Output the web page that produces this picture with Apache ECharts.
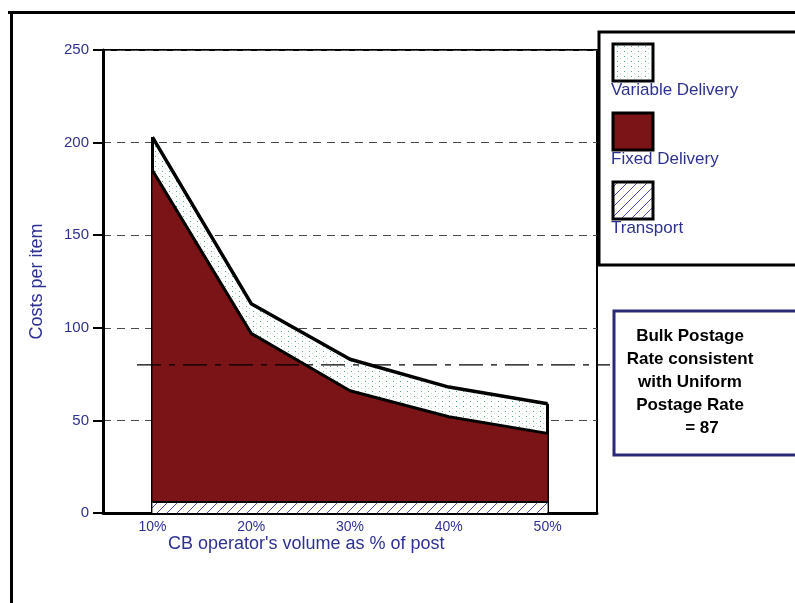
<!DOCTYPE html>
<html>
<head>
<meta charset="utf-8">
<script src="https://cdn.jsdelivr.net/npm/echarts@6/dist/echarts.min.js"></script>
<style>
  html, body { margin: 0; padding: 0; background: #fff; }
  #chart { width: 795px; height: 603px; }
</style>
</head>
<body>
<div id="chart"></div>
<script>
// Cost per item by the CB operator's share of post volume
const categories = ['10%', '20%', '30%', '40%', '50%'];
const transport = [6, 6, 6, 6, 6];
const fixedDelivery = [179, 91, 60, 46, 37];
const variableDelivery = [18, 16, 17, 16, 16];
const yMin = 0, yMax = 250, yStep = 50;
const bulkRate = 80;
const seriesNames = ['Variable Delivery', 'Fixed Delivery', 'Transport'];
const noteLines = ['Bulk Postage', 'Rate consistent', 'with Uniform', 'Postage Rate', '= 87'];

const NAVY = '#2e3192';
const MAROON = '#7a1416';

// fill patterns: green dots and blue diagonal hatch on white
function dotPattern() {
  const c = document.createElement('canvas');
  c.width = 7; c.height = 5;
  const g = c.getContext('2d');
  g.fillStyle = '#fff'; g.fillRect(0, 0, 7, 5);
  g.fillStyle = '#55aa77'; g.fillRect(1, 1, 1, 1);
  g.fillStyle = '#b8dcc4'; g.fillRect(4, 3, 1, 1);
  return { image: c, repeat: 'repeat' };
}
function hatchPattern() {
  const c = document.createElement('canvas');
  c.width = 10; c.height = 10;
  const g = c.getContext('2d');
  g.fillStyle = '#fff'; g.fillRect(0, 0, 10, 10);
  g.strokeStyle = '#4b4ba8'; g.lineWidth = 1;
  g.beginPath();
  g.moveTo(-2, 12); g.lineTo(12, -2);
  g.moveTo(-12, 12); g.lineTo(2, -2);
  g.moveTo(8, 12); g.lineTo(22, -2);
  g.stroke();
  return { image: c, repeat: 'repeat' };
}
const dots = dotPattern();
const hatch = hatchPattern();

const totals = categories.map((_, i) => transport[i] + fixedDelivery[i] + variableDelivery[i]);
const last = categories.length - 1;

const chart = echarts.init(document.getElementById('chart'), null, { renderer: 'canvas' });

// lower bands sit above the upper ones so each band's top outline stays whole
chart.setOption({
  animation: false,
  backgroundColor: '#fff',
  grid: {
    left: 103, top: 50, right: 198, bottom: 90,
    show: true, borderColor: '#000', borderWidth: 2, backgroundColor: 'transparent'
  },
  xAxis: {
    type: 'category',
    data: categories,
    boundaryGap: true,
    axisLine: { lineStyle: { color: '#000', width: 3 } },
    axisTick: { alignWithLabel: true, length: 9, lineStyle: { color: '#000', width: 2 } },
    axisLabel: { color: NAVY, fontFamily: 'Liberation Sans, Arial', fontSize: 14, margin: 7 },
    splitLine: { show: false }
  },
  yAxis: {
    type: 'value',
    min: yMin, max: yMax, interval: yStep,
    name: 'Costs per item',
    nameLocation: 'middle',
    nameGap: 57,
    nameRotate: 90,
    nameTextStyle: { color: NAVY, fontFamily: 'Liberation Sans, Arial', fontSize: 18 },
    axisLine: { show: true, lineStyle: { color: '#000', width: 3 } },
    axisTick: { show: true, length: 10, lineStyle: { color: '#000', width: 2 } },
    axisLabel: { color: NAVY, fontFamily: 'Liberation Sans, Arial', fontSize: 15, margin: 14 },
    splitLine: { show: true, lineStyle: { color: '#4a4a4a', width: 1, type: [8, 6] } }
  },
  series: [
    {
      name: seriesNames[2], type: 'line', stack: 'cost', data: transport,
      symbol: 'none', z: 6,
      lineStyle: { color: '#000', width: 2 },
      areaStyle: { color: hatch, opacity: 1 },
      markLine: {
        silent: true, symbol: ['none', 'none'], label: { show: false },
        lineStyle: { color: '#000', width: 3, type: 'solid' },
        data: [
          [{ coord: [categories[0], 0] }, { coord: [categories[0], totals[0]] }],
          [{ coord: [categories[last], 0] }, { coord: [categories[last], totals[last]] }]
        ]
      }
    },
    {
      name: seriesNames[1], type: 'line', stack: 'cost', data: fixedDelivery,
      symbol: 'none', z: 5,
      lineStyle: { color: '#000', width: 3 },
      areaStyle: { color: MAROON, opacity: 1 }
    },
    {
      name: seriesNames[0], type: 'line', stack: 'cost', data: variableDelivery,
      symbol: 'none', z: 4,
      lineStyle: { color: '#000', width: 3.5 },
      areaStyle: { color: dots, opacity: 1 }
    }
  ]
});

const rateY = chart.convertToPixel({ yAxisIndex: 0 }, bulkRate);
const font = 'Liberation Sans, Arial';

const legendItems = [
  { label: seriesNames[0], fill: dots, top: 44 },
  { label: seriesNames[1], fill: MAROON, top: 113 },
  { label: seriesNames[2], fill: hatch, top: 182 }
];

const graphics = [
  // outer frame
  { type: 'line', shape: { x1: 8, y1: 12.5, x2: 795, y2: 12.5 }, style: { stroke: '#000', lineWidth: 3 }, z: 20 },
  { type: 'line', shape: { x1: 11.5, y1: 11, x2: 11.5, y2: 603 }, style: { stroke: '#000', lineWidth: 3 }, z: 20 },
  // legend box
  { type: 'rect', shape: { x: 599, y: 32, width: 200, height: 233 }, style: { fill: '#fff', stroke: '#000', lineWidth: 3 }, z: 20 },
  // bulk rate line
  { type: 'line', shape: { x1: 137, y1: rateY, x2: 610, y2: rateY },
    style: { stroke: '#000', lineWidth: 1.2, lineDash: [24, 8, 6, 8] }, z: 25 },
  // note box
  { type: 'rect', shape: { x: 614, y: 311, width: 200, height: 144 }, style: { fill: '#fff', stroke: '#2a2a78', lineWidth: 3 }, z: 30 },
  // x axis name
  { type: 'text', left: 168, top: 535, style: { text: "CB operator's volume as % of post", fill: NAVY, font: '18px ' + font }, z: 20 }
];

legendItems.forEach(it => {
  graphics.push({ type: 'rect', shape: { x: 613, y: it.top, width: 40, height: 37 },
    style: { fill: it.fill, stroke: '#000', lineWidth: 3 }, z: 21 });
  graphics.push({ type: 'text', x: 611, y: it.top + 46,
    style: { text: it.label, fill: NAVY, font: '17px ' + font, textVerticalAlign: 'middle' }, z: 22 });
});

noteLines.forEach((t, i) => {
  graphics.push({ type: 'text', x: i === noteLines.length - 1 ? 702 : 690, y: 336 + i * 23,
    style: { text: t, fill: '#000', font: 'bold 17px ' + font, textAlign: 'center', textVerticalAlign: 'middle' }, z: 31 });
});

chart.setOption({ graphic: graphics });
</script>
</body>
</html>
